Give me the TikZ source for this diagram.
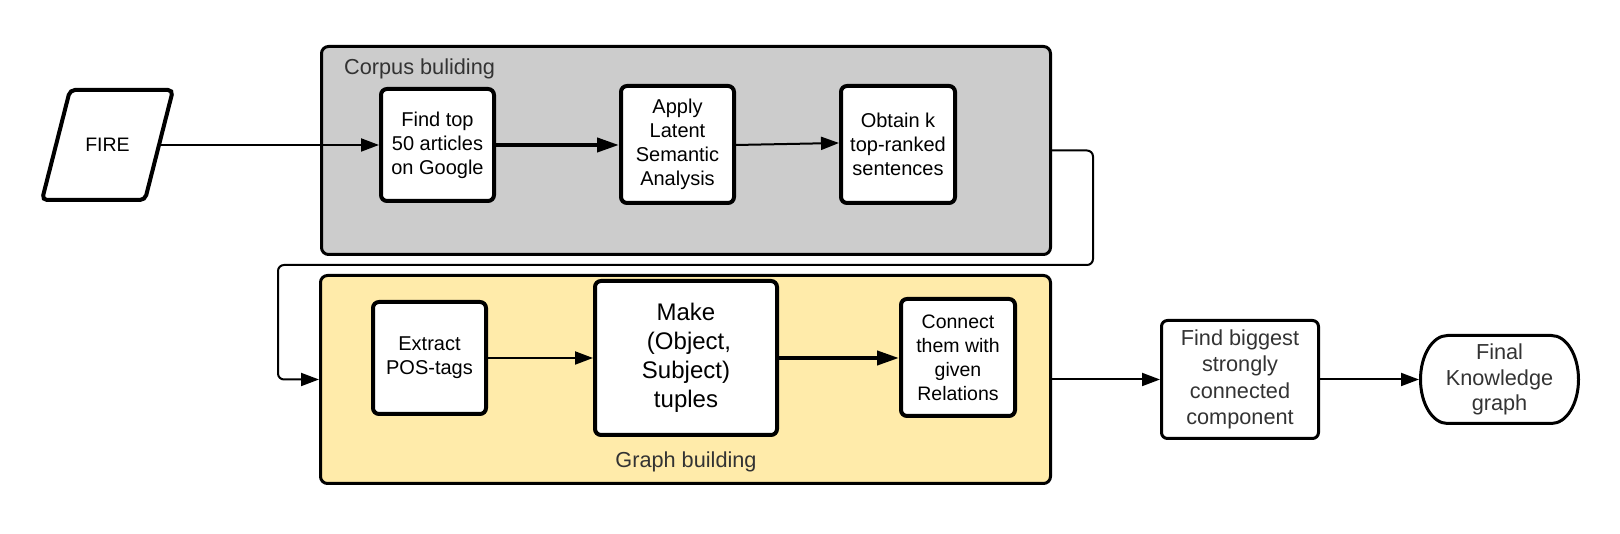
\documentclass[tikz,border=0pt]{standalone}
\usepackage{fontspec}
\setmainfont{Liberation Sans}
\usetikzlibrary{arrows.meta}
\definecolor{cgray}{HTML}{CCCCCC}
\definecolor{cyellow}{HTML}{FFEBAA}
\definecolor{ctext}{HTML}{333333}
\begin{document}
\begin{tikzpicture}[x=1pt,y=1pt,
  box/.style={draw, line width=4pt, fill=white, rounded corners=6pt, align=center, inner sep=0pt, font=\fontsize{20}{24}\selectfont},
  thinbox/.style={draw, line width=3pt, fill=white, rounded corners=6pt, align=center, inner sep=0pt, text=ctext, font=\fontsize{21.7}{26.5}\selectfont},
  cont/.style={draw, line width=3pt, rounded corners=7pt, inner sep=0pt},
  lbl/.style={text=ctext, font=\fontsize{21.7}{26}\selectfont, inner sep=0pt},
  arr/.style={line width=2pt, -{Triangle[length=18pt,width=13pt]}},
  tarr/.style={line width=4pt, -{Triangle[length=22pt,width=14pt]}},
]
\useasboundingbox (0,0) rectangle (1620,534);

% containers
\node[cont, fill=cgray, minimum width=729pt, minimum height=208pt] (corpus) at (686,383.5) {};
\node[cont, fill=cyellow, minimum width=730pt, minimum height=208pt] (graph) at (685.5,154.5) {};
\node[lbl, anchor=west] (corpuslbl) at (344,465) {Corpus buliding};
\node[lbl] (graphlbl) at (686,72) {Graph building};

% FIRE parallelogram
\node[inner sep=0pt, outer sep=0pt, minimum width=107pt, minimum height=114pt, font=\fontsize{19.5}{24}\selectfont] (fire) at (107.5,389) {FIRE};
\draw[line width=4pt, rounded corners=5pt] ([shift={(-37.5,55)}]fire.center) -- ([shift={(65.5,55)}]fire.center) -- ([shift={(37.5,-55)}]fire.center) -- ([shift={(-65.5,-55)}]fire.center) -- cycle;

% corpus building nodes
\node[box, minimum width=113pt, minimum height=112pt] (find) at (437.5,389) {Find top\\50 articles\\on Google};
\node[box, minimum width=113pt, minimum height=117pt] (apply) at (677.5,389.5) {Apply\\Latent\\Semantic\\Analysis};
\node[box, minimum width=114pt, minimum height=117pt] (obtain) at (898,389.5) {Obtain k\\top-ranked\\sentences};

% graph building nodes
\node[box, minimum width=113pt, minimum height=112pt] (extract) at (429.5,176) {Extract\\POS-tags};
\node[box, minimum width=182pt, minimum height=154pt, font=\fontsize{24}{29}\selectfont] (make) at (686,176) {Make\\\hspace*{6pt}(Object,\\Subject)\\tuples};
\node[box, minimum width=114pt, minimum height=117pt, font=\fontsize{19.5}{24}\selectfont] (connect) at (958,176.5) {Connect\\them with\\given\\Relations};

% right nodes
\node[thinbox, minimum width=157pt, minimum height=118pt] (findbig) at (1240,154.5) {Find biggest\\strongly\\connected\\component};
\node[inner sep=0pt, outer sep=1.5pt, minimum width=158pt, minimum height=88pt, align=center, text=ctext, font=\fontsize{21.7}{25.5}\selectfont] (final) at (1499.5,154.5) {Final\\Knowledge\\graph};
\draw[line width=3pt] ([shift={(-52,44)}]final.center) -- ([shift={(52,44)}]final.center)
  arc[start angle=90, end angle=-90, x radius=27, y radius=44]
  -- ([shift={(-52,-44)}]final.center)
  arc[start angle=270, end angle=90, x radius=27, y radius=44] -- cycle;

% connectors
\draw[arr] (fire.east) -- (find.west);
\draw[tarr] (find.east) -- (find.east -| apply.west);
\draw[arr] ([yshift=-0.5pt]apply.east) -- ([yshift=1.5pt]obtain.west);
\coordinate (lr) at (1093,269);
\coordinate (ll) at (278,269);
\draw[arr, rounded corners=6pt] (corpus.east) -| (lr) -- (ll) |- (graph.west);
\draw[arr] (extract.east) -- (extract.east -| make.west);
\draw[tarr] (make.east) -- (make.east -| connect.west);
\draw[arr] (graph.east) -- (findbig.west);
\draw[arr] (findbig.east) -- (final.west);
\end{tikzpicture}
\end{document}
